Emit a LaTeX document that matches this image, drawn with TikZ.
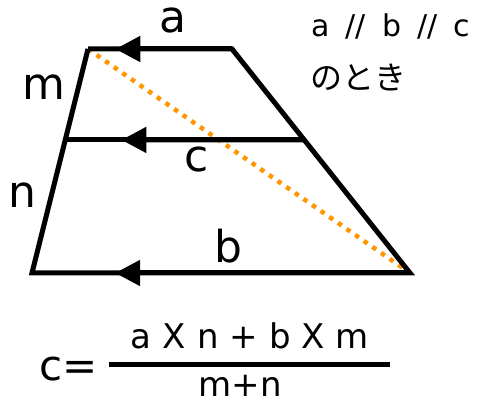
\documentclass[tikz,border=0pt]{standalone}
\usepackage{fontspec}
\setmainfont{DejaVu Sans}
\newfontfamily\jpfont{Noto Sans CJK JP}
\usetikzlibrary{arrows.meta, calc}
\definecolor{diagorange}{RGB}{255,150,0}
\newcommand\widespace[1]{\spaceskip #1\relax}

\begin{document}
\begin{tikzpicture}[x=1pt, y=-1pt, line width=5pt,
    edge/.style={black, line cap=butt},
    headarrow/.style={-{Triangle[length=25pt, width=25pt]}},
    diag/.style={diagorange, line width=4.5pt, dash pattern=on 4.5pt off 6pt},
    lbl/.style={font=\fontsize{44}{44}\selectfont, inner sep=0pt, anchor=base},
    note/.style={font=\fontsize{30}{30}\selectfont, inner sep=0pt, anchor=base west}]
  \useasboundingbox (0,0) rectangle (487,403);

  % Trapezoid corners and the middle segment
  \coordinate (A) at (88,49);
  \coordinate (B) at (232,49);
  \coordinate (C) at (410,273);
  \coordinate (D) at (32,273);
  \coordinate (E) at ($(A)!0.406!(D)$);
  \coordinate (F) at ($(B)!0.406!(C)$);

  % Diagonal (dotted, orange)
  \draw[diag] (A) -- (C);

  % Sides
  \draw[edge] (A) -- (D) -- (C) -- (B) -- (A);
  \draw[edge] (F) -- (E);

  % Arrowheads on the parallel segments
  \draw[edge, headarrow] (B) -- ($(B)!0.81!(A)$);
  \draw[edge, headarrow] (F) -- ($(F)!0.765!(E)$);
  \draw[edge, headarrow] (C) -- ($(C)!0.78!(D)$);

  % Segment labels
  \node[lbl] (la) at (173,33) {a};
  \node[lbl] (lm) at (44,100) {m};
  \node[lbl] (lc) at (197,172) {c};
  \node[lbl] (ln) at (22,208) {n};
  \node[lbl] (lb) at (228,263) {b};

  % Condition
  \node[note] (cond) at (309,37) {\widespace{16pt}a // b // c};
  \node[note, font=\jpfont\fontsize{32}{32}\selectfont] (toki) at (308,90) {のとき};

  % Formula
  \node[font=\fontsize{42}{42}\selectfont, inner sep=0pt, anchor=base west] (lhs) at (37,380) {c=};
  \node[font=\fontsize{34}{34}\selectfont, inner sep=0pt, anchor=base] (num) at (250,348) {\widespace{11pt}a X n + b X m};
  \draw[line width=5pt] (109,364) -- (390,364);
  \node[font=\fontsize{34}{34}\selectfont, inner sep=0pt, anchor=base] (den) at (240,396) {m+n};
\end{tikzpicture}
\end{document}
